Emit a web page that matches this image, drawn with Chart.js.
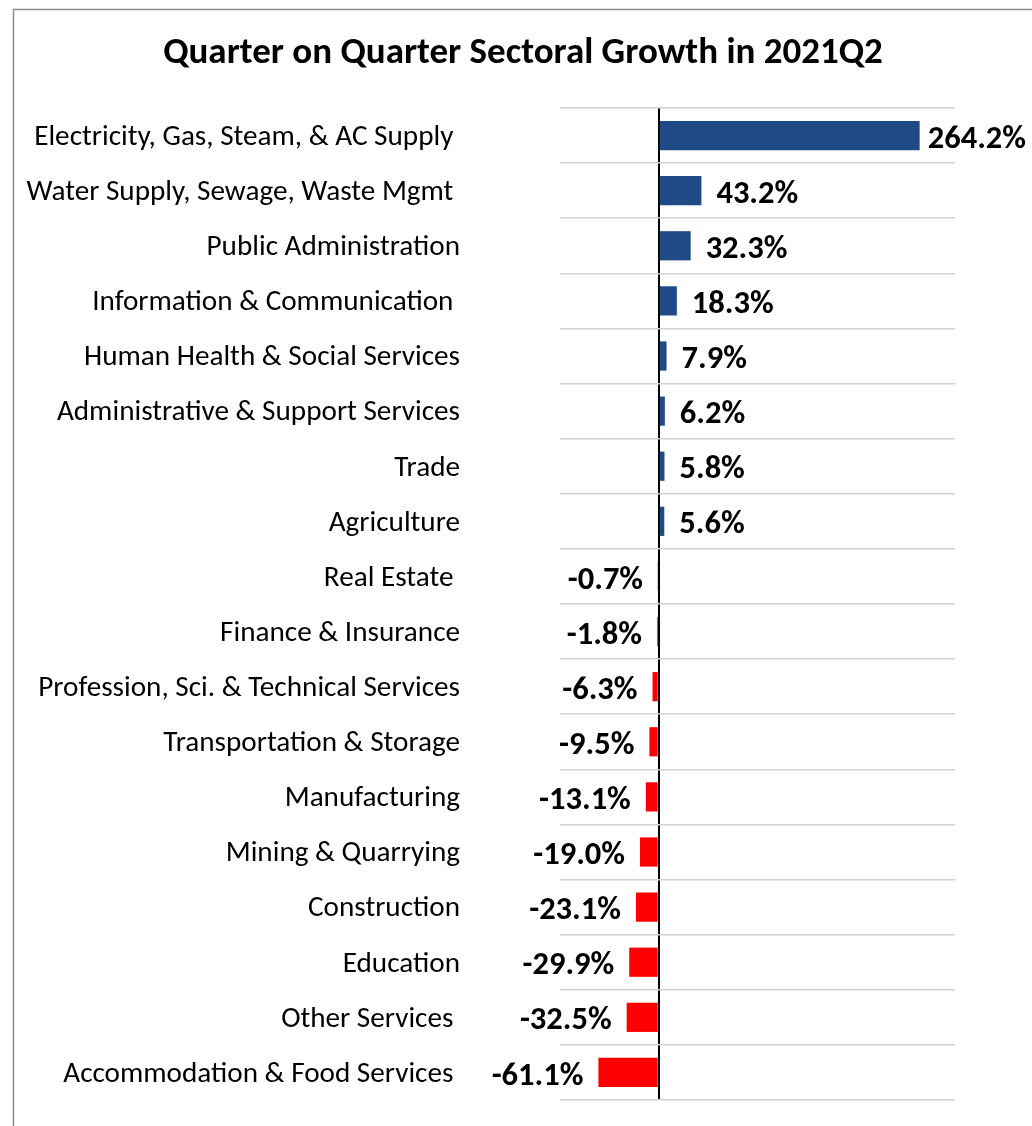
<html lang="en">
<head>
    <meta charset="UTF-8">
    <title>Quarter on Quarter Sectoral Growth in 2021Q2</title>
    <script src="https://cdn.jsdelivr.net/npm/chart.js"></script>
    <style>
        body { margin: 0; background: #fff; }
        #wrap { width: 1032px; height: 1126px; }
    </style>
</head>
<body>
    <div id="wrap"><canvas id="growthChart"></canvas></div>

    <script>
        // Sectors (top to bottom) and their QoQ growth, %
        const sectors = [
            'Electricity, Gas, Steam, & AC Supply ',
            'Water Supply, Sewage, Waste Mgmt ',
            'Public Administration',
            'Information & Communication ',
            'Human Health & Social Services',
            'Administrative & Support Services',
            'Trade',
            'Agriculture',
            'Real Estate ',
            'Finance & Insurance',
            'Profession, Sci. & Technical Services',
            'Transportation & Storage',
            'Manufacturing',
            'Mining & Quarrying',
            'Construction',
            'Education',
            'Other Services ',
            'Accommodation & Food Services '
        ];
        const growth = [264.2, 43.2, 32.3, 18.3, 7.9, 6.2, 5.8, 5.6, -0.7, -1.8, -6.3, -9.5, -13.1, -19.0, -23.1, -29.9, -32.5, -61.1];
        const chartTitle = 'Quarter on Quarter Sectoral Growth in 2021Q2';

        const FONT = "Calibri, Carlito, Lato, sans-serif";
        const posColor = '#1F4A86';
        const negColor = '#FF0000';

        // frame + title
        const decor = {
            id: 'decor',
            beforeDraw(chart) {
                const c = chart.ctx;
                c.save();
                c.fillStyle = '#fff';
                c.fillRect(0, 0, chart.width, chart.height);
                c.strokeStyle = '#8c8c8c';
                c.lineWidth = 1.5;
                c.strokeRect(13.5, 9.5, chart.width + 20, chart.height + 20);
                c.fillStyle = '#000';
                c.font = 'bold 37px ' + FONT;
                c.textAlign = 'center';
                c.textBaseline = 'middle';
                c.fillText(chartTitle, 523, 54);
                c.restore();
            }
        };

        // value labels next to each bar
        const valueLabels = {
            id: 'valueLabels',
            afterDatasetsDraw(chart) {
                const c = chart.ctx;
                const meta = chart.getDatasetMeta(0);
                c.save();
                c.font = 'bold 32.5px ' + FONT;
                c.fillStyle = '#000';
                c.textBaseline = 'middle';
                meta.data.forEach((bar, i) => {
                    const v = growth[i];
                    const txt = v.toFixed(1) + '%';
                    if (v >= 0) {
                        let x = bar.x + 15;
                        const w = c.measureText(txt).width;
                        if (x + w > chart.width - 6) x = chart.width - 6 - w;
                        c.textAlign = 'left';
                        c.fillText(txt, x, bar.y + 4);
                    } else {
                        c.textAlign = 'right';
                        c.fillText(txt, bar.x - 15, bar.y + 4);
                    }
                });
                c.restore();
            }
        };

        const ctx = document.getElementById('growthChart').getContext('2d');
        new Chart(ctx, {
            type: 'bar',
            data: {
                labels: sectors,
                datasets: [{
                    data: growth,
                    backgroundColor: growth.map(v => v >= 0 ? posColor : negColor),
                    categoryPercentage: 1,
                    barPercentage: 0.53
                }]
            },
            options: {
                indexAxis: 'y',
                responsive: true,
                maintainAspectRatio: false,
                animation: false,
                layout: { padding: { left: 14, right: 77, top: 108, bottom: 26 } },
                plugins: {
                    legend: { display: false },
                    tooltip: { enabled: false }
                },
                scales: {
                    x: {
                        min: -100,
                        max: 300,
                        ticks: { display: false, stepSize: 100 },
                        border: { display: false },
                        grid: {
                            drawTicks: false,
                            lineWidth: 2,
                            color: c => c.tick && c.tick.value === 0 ? '#000' : 'rgba(0,0,0,0)'
                        },
                        afterFit(scale) { scale.height = 0; }
                    },
                    y: {
                        border: { display: false },
                        grid: { drawTicks: false, color: '#d2d2d2', lineWidth: 1.5 },
                        ticks: {
                            padding: 100,
                            labelOffset: 2,
                            color: '#000',
                            font: { family: FONT, size: 29.2 }
                        },
                        afterFit(scale) {
                            // labels sit 100px left of the plot; don't let that pad the top/bottom
                            scale.width = 546;
                            scale.paddingTop = 0;
                            scale.paddingBottom = 0;
                        }
                    }
                }
            },
            plugins: [decor, valueLabels]
        });
    </script>
</body>
</html>
